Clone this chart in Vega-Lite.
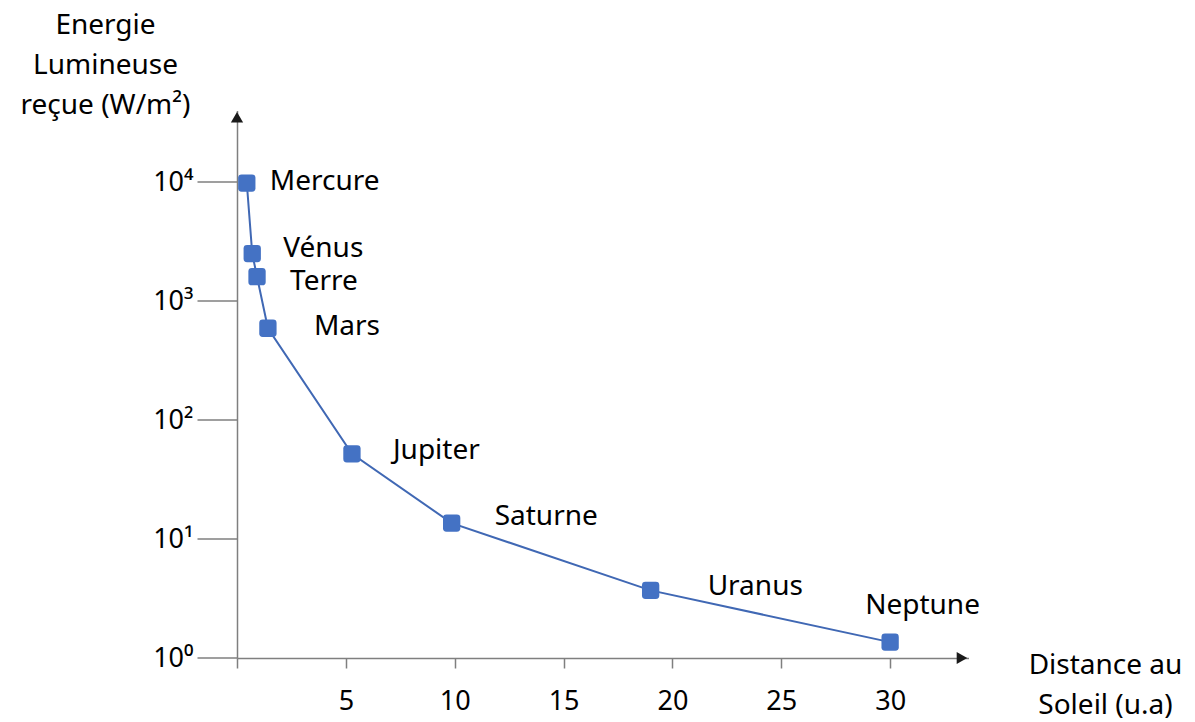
{
  "$schema": "https://vega.github.io/schema/vega-lite/v6.json",
  "autosize": "none",
  "padding": {"left": 237, "top": 110.6, "right": 226.5, "bottom": 64},
  "width": 731.5,
  "height": 547.4,
  "background": "white",
  "config": {"view": {"stroke": null}, "font": "Noto Sans"},
  "data": {"values": [
    {"planete": "Mercure", "distance": 0.45, "energie": 9800},
    {"planete": "Vénus", "distance": 0.7, "energie": 2500},
    {"planete": "Terre", "distance": 0.92, "energie": 1600},
    {"planete": "Mars", "distance": 1.42, "energie": 590},
    {"planete": "Jupiter", "distance": 5.28, "energie": 52},
    {"planete": "Saturne", "distance": 9.86, "energie": 13.6},
    {"planete": "Uranus", "distance": 19.0, "energie": 3.7},
    {"planete": "Neptune", "distance": 30.0, "energie": 1.36}
  ]},
  "encoding": {
    "x": {"field": "distance", "type": "quantitative",
      "scale": {"domain": [0, 33.6], "nice": false, "zero": false},
      "axis": {
        "values": [0, 5, 10, 15, 20, 25, 30],
        "labelExpr": "datum.value == 0 ? '' : datum.label",
        "grid": false, "tickSize": 10, "tickColor": "#7f7f7f", "tickWidth": 1.5,
        "domainColor": "#7f7f7f", "domainWidth": 1.5,
        "labelPadding": 20, "labelFontSize": 27, "labelColor": "black", "labelFont": "Noto Sans",
        "labelFlush": false, "labelOverlap": false,
        "title": ["Distance au", "Soleil (u.a)"],
        "titleX": 868, "titleY": 7, "titleAngle": 0, "titleAlign": "center", "titleBaseline": "middle",
        "titleFontSize": 28, "titleFontWeight": "normal", "titleColor": "black", "titleLineHeight": 40, "titleFont": "Noto Sans"
      }},
    "y": {"field": "energie", "type": "quantitative",
      "scale": {"type": "log", "domain": [1, 39811], "nice": false},
      "axis": {
        "values": [1, 10, 100, 1000, 10000],
        "labelExpr": "'10' + ['⁰','¹','²','³','⁴'][round(log(datum.value)/LN10)]",
        "grid": false, "tickSize": 40, "tickColor": "#7f7f7f", "tickWidth": 1.5,
        "domainColor": "#7f7f7f", "domainWidth": 1.5,
        "labelPadding": 4, "labelFontSize": 27, "labelColor": "black", "labelFont": "Noto Sans",
        "labelFlush": false, "labelOverlap": false,
        "title": ["Energie", "Lumineuse", "reçue (W/m²)"],
        "titleX": -132, "titleY": -85.6, "titleAngle": 0, "titleAlign": "center", "titleBaseline": "middle",
        "titleFontSize": 28, "titleFontWeight": "normal", "titleColor": "black", "titleLineHeight": 40, "titleFont": "Noto Sans"
      }}
  },
  "layer": [
    {"mark": {"type": "line", "color": "#4068B4", "strokeWidth": 2}},
    {"mark": {"type": "point", "filled": true, "opacity": 1, "color": "#4472C4", "size": 300,
      "shape": "M -1 -0.6 Q -1 -1 -0.6 -1 L 0.6 -1 Q 1 -1 1 -0.6 L 1 0.6 Q 1 1 0.6 1 L -0.6 1 Q -1 1 -1 0.6 Z"}},
    {"transform": [{"filter": "datum.planete == 'Mercure'"}],
     "mark": {"type": "text", "align": "left", "baseline": "middle", "fontSize": 28, "dx": 23, "dy": -1, "color": "black"},
     "encoding": {"text": {"field": "planete"}}},
    {"transform": [{"filter": "datum.planete == 'Vénus'"}],
     "mark": {"type": "text", "align": "left", "baseline": "middle", "fontSize": 28, "dx": 31, "dy": -5, "color": "black"},
     "encoding": {"text": {"field": "planete"}}},
    {"transform": [{"filter": "datum.planete == 'Terre'"}],
     "mark": {"type": "text", "align": "left", "baseline": "middle", "fontSize": 28, "dx": 33, "dy": 5, "color": "black"},
     "encoding": {"text": {"field": "planete"}}},
    {"transform": [{"filter": "datum.planete == 'Mars'"}],
     "mark": {"type": "text", "align": "left", "baseline": "middle", "fontSize": 28, "dx": 46, "dy": -1, "color": "black"},
     "encoding": {"text": {"field": "planete"}}},
    {"transform": [{"filter": "datum.planete == 'Jupiter'"}],
     "mark": {"type": "text", "align": "left", "baseline": "middle", "fontSize": 28, "dx": 41, "dy": -3, "color": "black"},
     "encoding": {"text": {"field": "planete"}}},
    {"transform": [{"filter": "datum.planete == 'Saturne'"}],
     "mark": {"type": "text", "align": "left", "baseline": "middle", "fontSize": 28, "dx": 43, "dy": -6, "color": "black"},
     "encoding": {"text": {"field": "planete"}}},
    {"transform": [{"filter": "datum.planete == 'Uranus'"}],
     "mark": {"type": "text", "align": "left", "baseline": "middle", "fontSize": 28, "dx": 57, "dy": -3, "color": "black"},
     "encoding": {"text": {"field": "planete"}}},
    {"transform": [{"filter": "datum.planete == 'Neptune'"}],
     "mark": {"type": "text", "align": "left", "baseline": "middle", "fontSize": 28, "dx": -25, "dy": -36, "color": "black"},
     "encoding": {"text": {"field": "planete"}}},
    {"transform": [{"filter": "datum.planete == 'Neptune'"}],
     "mark": {"type": "point", "shape": "triangle-right", "filled": true, "opacity": 1, "color": "#1a1a1a", "size": 150},
     "encoding": {"x": {"datum": 33.3}, "y": {"datum": 1}}},
    {"transform": [{"filter": "datum.planete == 'Neptune'"}],
     "mark": {"type": "point", "shape": "triangle-up", "filled": true, "opacity": 1, "color": "#1a1a1a", "size": 150},
     "encoding": {"x": {"datum": 0}, "y": {"datum": 35000}}}
  ]
}
